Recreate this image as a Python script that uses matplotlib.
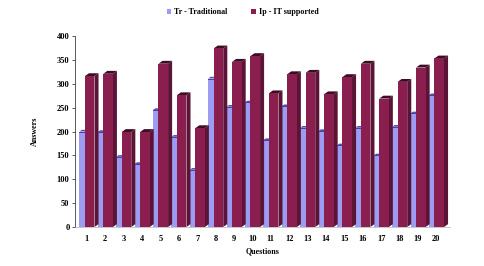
import matplotlib
matplotlib.use("Agg")
import matplotlib.pyplot as plt
from matplotlib.patches import Polygon, Patch
import numpy as np

questions = [str(i) for i in range(1, 21)]
traditional = [200, 199, 147, 132, 245, 189, 120, 311, 252, 261,
               182, 253, 208, 201, 171, 208, 150, 210, 238, 276]
it_supported = [316, 321, 199, 199, 342, 276, 207, 374, 346, 358,
                280, 320, 323, 278, 314, 342, 269, 304, 334, 353]
yticks = [0, 50, 100, 150, 200, 250, 300, 350, 400]

plt.rcParams['font.family'] = ['Liberation Serif', 'DejaVu Serif']

fig = plt.figure(figsize=(4.85, 2.66), dpi=100)
ax = fig.add_axes([0.1546, 0.1466, 0.773, 0.718])

light_front = '#9c9cf2'
light_top = '#5a4fb0'
dark_front = '#8a1f4f'
dark_side = '#5c1436'
dark_top = '#3e0c24'

wl = 0.3    # light bar width
wd = 0.52   # dark bar front width
dx = 0.22   # depth offset x (category units)
dy = 6      # depth offset y (data units)

x = np.arange(len(questions))
for i, (t, p) in enumerate(zip(traditional, it_supported)):
    c = x[i]
    # light bar
    ax.add_patch(Polygon([(c - wl, t), (c - wl + dx * 0.6, t + dy * 0.6),
                          (c + dx * 0.6, t + dy * 0.6), (c, t)],
                         closed=True, facecolor=light_top, edgecolor='none', zorder=2))
    ax.bar(c - wl, t, width=wl, align='edge', color=light_front, edgecolor='none', zorder=2)
    ax.plot([c - wl, c], [t, t], color='#3a3090', lw=0.6, zorder=3)
    # dark bar
    ax.add_patch(Polygon([(c + wd, 0), (c + wd + dx, dy), (c + wd + dx, p + dy), (c + wd, p)],
                         closed=True, facecolor=dark_side, edgecolor='none', zorder=3))
    ax.add_patch(Polygon([(c, p), (c + dx, p + dy), (c + wd + dx, p + dy), (c + wd, p)],
                         closed=True, facecolor=dark_top, edgecolor='none', zorder=3))
    ax.bar(c, p, width=wd, align='edge', color=dark_front, edgecolor='none', zorder=4)

ax.set_xlim(-0.54, 19.84)
ax.set_ylim(0, 400)
ax.set_yticks(yticks)
ax.set_yticklabels([str(v) for v in yticks], fontsize=6, fontweight='bold')
ax.set_xticks(x + 0.1)
ax.set_xticklabels(questions, fontsize=6, fontweight='bold')
ax.tick_params(axis='x', length=0, pad=6)
ax.tick_params(axis='y', length=2, width=0.6, pad=2, color='#404040')
for s in ['top', 'right']:
    ax.spines[s].set_visible(False)
ax.spines['left'].set_color('#404040')
ax.spines['left'].set_linewidth(0.6)
ax.spines['bottom'].set_color('#b0b0b0')
ax.spines['bottom'].set_linewidth(0.5)

ax.set_ylabel('Answers', fontsize=5.8, fontweight='bold', labelpad=13)
ax.set_xlabel('Questions', fontsize=5.8, fontweight='bold', labelpad=3)

handles = [Patch(facecolor=light_front, edgecolor='none'),
           Patch(facecolor=dark_front, edgecolor='none')]
fig.legend(handles, ['Tr - Traditional', 'Ip - IT supported'], loc='center',
           bbox_to_anchor=(0.5, 0.955), ncol=2, frameon=False,
           prop={'size': 5.8, 'weight': 'bold'}, handlelength=0.6, handleheight=0.6,
           handletextpad=0.3, columnspacing=3.0)

fig.savefig('out.png', dpi=100)
